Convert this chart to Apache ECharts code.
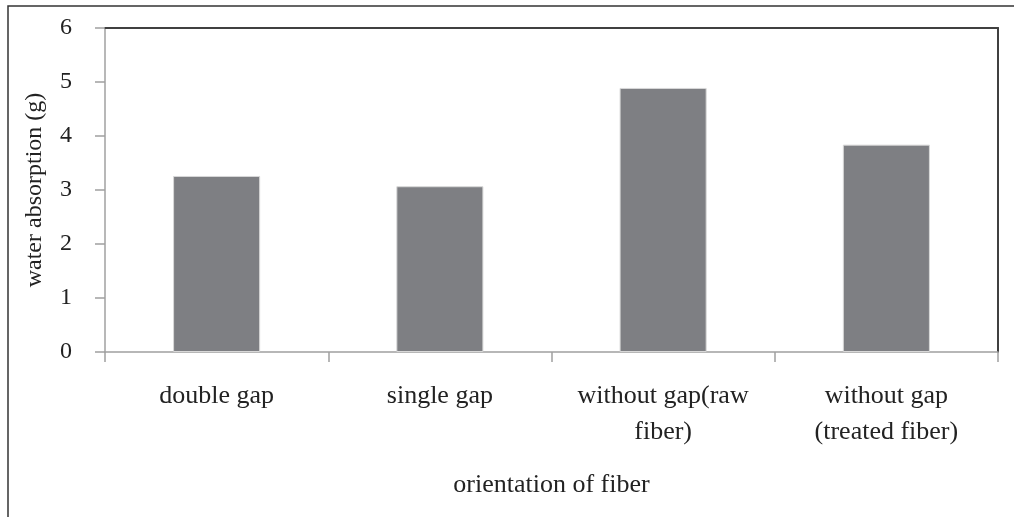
<!DOCTYPE html>
<html>
<head>
<meta charset="utf-8">
<script src="https://cdn.jsdelivr.net/npm/echarts@6/dist/echarts.min.js"></script>
<style>
html,body{margin:0;padding:0;background:#fff;}
#c{width:1014px;height:517px;}
</style>
</head>
<body>
<div id="c"></div>
<script>
const categories = ["double gap", "single gap", "without gap(raw\nfiber)", "without gap\n(treated fiber)"];
const values = [3.26, 3.07, 4.89, 3.84];
const yTicks = [0, 1, 2, 3, 4, 5, 6];
const yName = "water absorption (g)";
const xName = "orientation of fiber";

const FONT = "Liberation Serif";
const chart = echarts.init(document.getElementById('c'), null, {renderer: 'canvas'});
chart.setOption({
  animation: false,
  backgroundColor: '#fff',
  graphic: [{
    type: 'rect',
    shape: {x: 8, y: 6, width: 1030, height: 540},
    style: {fill: 'none', stroke: '#333', lineWidth: 1.5},
    silent: true
  }],
  grid: {left: 105, top: 28, right: 16, bottom: 165, containLabel: false},
  xAxis: [{
    type: 'category',
    data: categories,
    position: 'bottom',
    name: xName,
    nameLocation: 'middle',
    nameGap: 120,
    nameTextStyle: {fontFamily: FONT, fontSize: 26, color: '#222'},
    axisLine: {show: true, onZero: false, lineStyle: {color: '#a0a0a0', width: 1.5}},
    axisTick: {show: true, alignWithLabel: false, length: 10, lineStyle: {color: '#a0a0a0', width: 1.5}},
    axisLabel: {fontFamily: FONT, fontSize: 26, color: '#222', lineHeight: 36, margin: 26, interval: 0},
    splitLine: {show: false}
  }, {
    type: 'category',
    data: categories,
    position: 'top',
    axisLine: {show: true, onZero: false, lineStyle: {color: '#404040', width: 2}},
    axisTick: {show: false},
    axisLabel: {show: false},
    splitLine: {show: false}
  }],
  yAxis: [{
    type: 'value',
    min: 0,
    max: 6,
    interval: 1,
    name: yName,
    nameLocation: 'middle',
    nameGap: 58,
    nameRotate: 90,
    nameTextStyle: {fontFamily: FONT, fontSize: 24, color: '#222'},
    axisLine: {show: true, onZero: false, lineStyle: {color: '#a0a0a0', width: 1.5}},
    axisTick: {show: true, length: 10, lineStyle: {color: '#a0a0a0', width: 1.5}},
    axisLabel: {fontFamily: FONT, fontSize: 24, color: '#222', margin: 33,
      formatter: function(v){ return yTicks.indexOf(v) >= 0 ? String(v) : ''; }},
    splitLine: {show: false}
  }, {
    type: 'value',
    min: 0,
    max: 6,
    interval: 1,
    position: 'right',
    axisLine: {show: true, onZero: false, lineStyle: {color: '#404040', width: 2}},
    axisTick: {show: false},
    axisLabel: {show: false},
    splitLine: {show: false}
  }],
  series: [{
    type: 'bar',
    data: values,
    barWidth: '39%',
    itemStyle: {color: '#7e7f83', borderColor: '#d8d8d8', borderWidth: 1},
    z: 1
  }]
});
</script>
</body>
</html>
